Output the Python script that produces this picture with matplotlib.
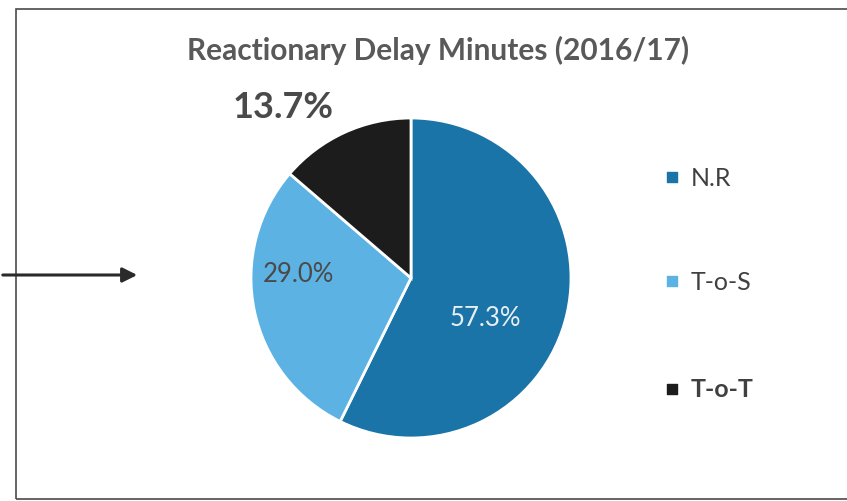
import matplotlib
matplotlib.use("Agg")
import matplotlib.pyplot as plt
from matplotlib.patches import Rectangle

title = "Reactionary Delay Minutes (2016/17)"
categories = ["N.R", "T-o-S", "T-o-T"]
shares = [57.3, 29.0, 13.7]
colors = ["#1b74a8", "#5cb3e3", "#1c1c1c"]

plt.rcParams['font.family'] = ['Lato', 'DejaVu Sans']

fig = plt.figure(figsize=(8.47, 5.02), dpi=100)
ax = fig.add_axes([0, 0, 1, 1])

W, H = 847, 502
cx, cy, r = 411, H - 279, 160

wedges, _ = ax.pie(shares, colors=colors, startangle=90, counterclock=False,
                   center=(cx, cy), radius=r,
                   wedgeprops=dict(edgecolor="white", linewidth=2))
ax.set_xlim(0, W)
ax.set_ylim(0, H)
ax.set_aspect("auto")
ax.axis("off")

# percentage labels
ax.text(485, H - 318, "%.1f%%" % shares[0], color="#e8eef3", fontsize=18.5,
        ha="center", va="center")
ax.text(298, H - 275, "%.1f%%" % shares[1], color="#4a4a4a", fontsize=18.5,
        ha="center", va="center")
ax.text(283, H - 108, "%.1f%%" % shares[2], color="#4a4a4a", fontsize=26,
        fontweight="bold", ha="center", va="center")

ax.text(438, H - 50, title, color="#595959", fontsize=21.5, fontweight="bold",
        ha="center", va="center")

# legend
leg_y = [178, 282, 390]
for name, col, y in zip(categories, colors, leg_y):
    ax.scatter([672], [H - y], marker="s", s=45, color=col)
    ax.text(691, H - y, name, color="#404040", fontsize=18,
            fontweight="bold" if name == "T-o-T" else "normal",
            ha="left", va="center")

# chart border and arrow
ax.add_patch(Rectangle((16, H - 500), 840, 490, fill=False, edgecolor="#4a4a4a",
                       linewidth=1.2, clip_on=False))
ax.annotate("", xy=(140, H - 276), xytext=(0, H - 276),
            arrowprops=dict(arrowstyle="-|>", color="#2a2a2a", lw=2.2,
                            mutation_scale=22))

fig.savefig("out.png", dpi=100)
